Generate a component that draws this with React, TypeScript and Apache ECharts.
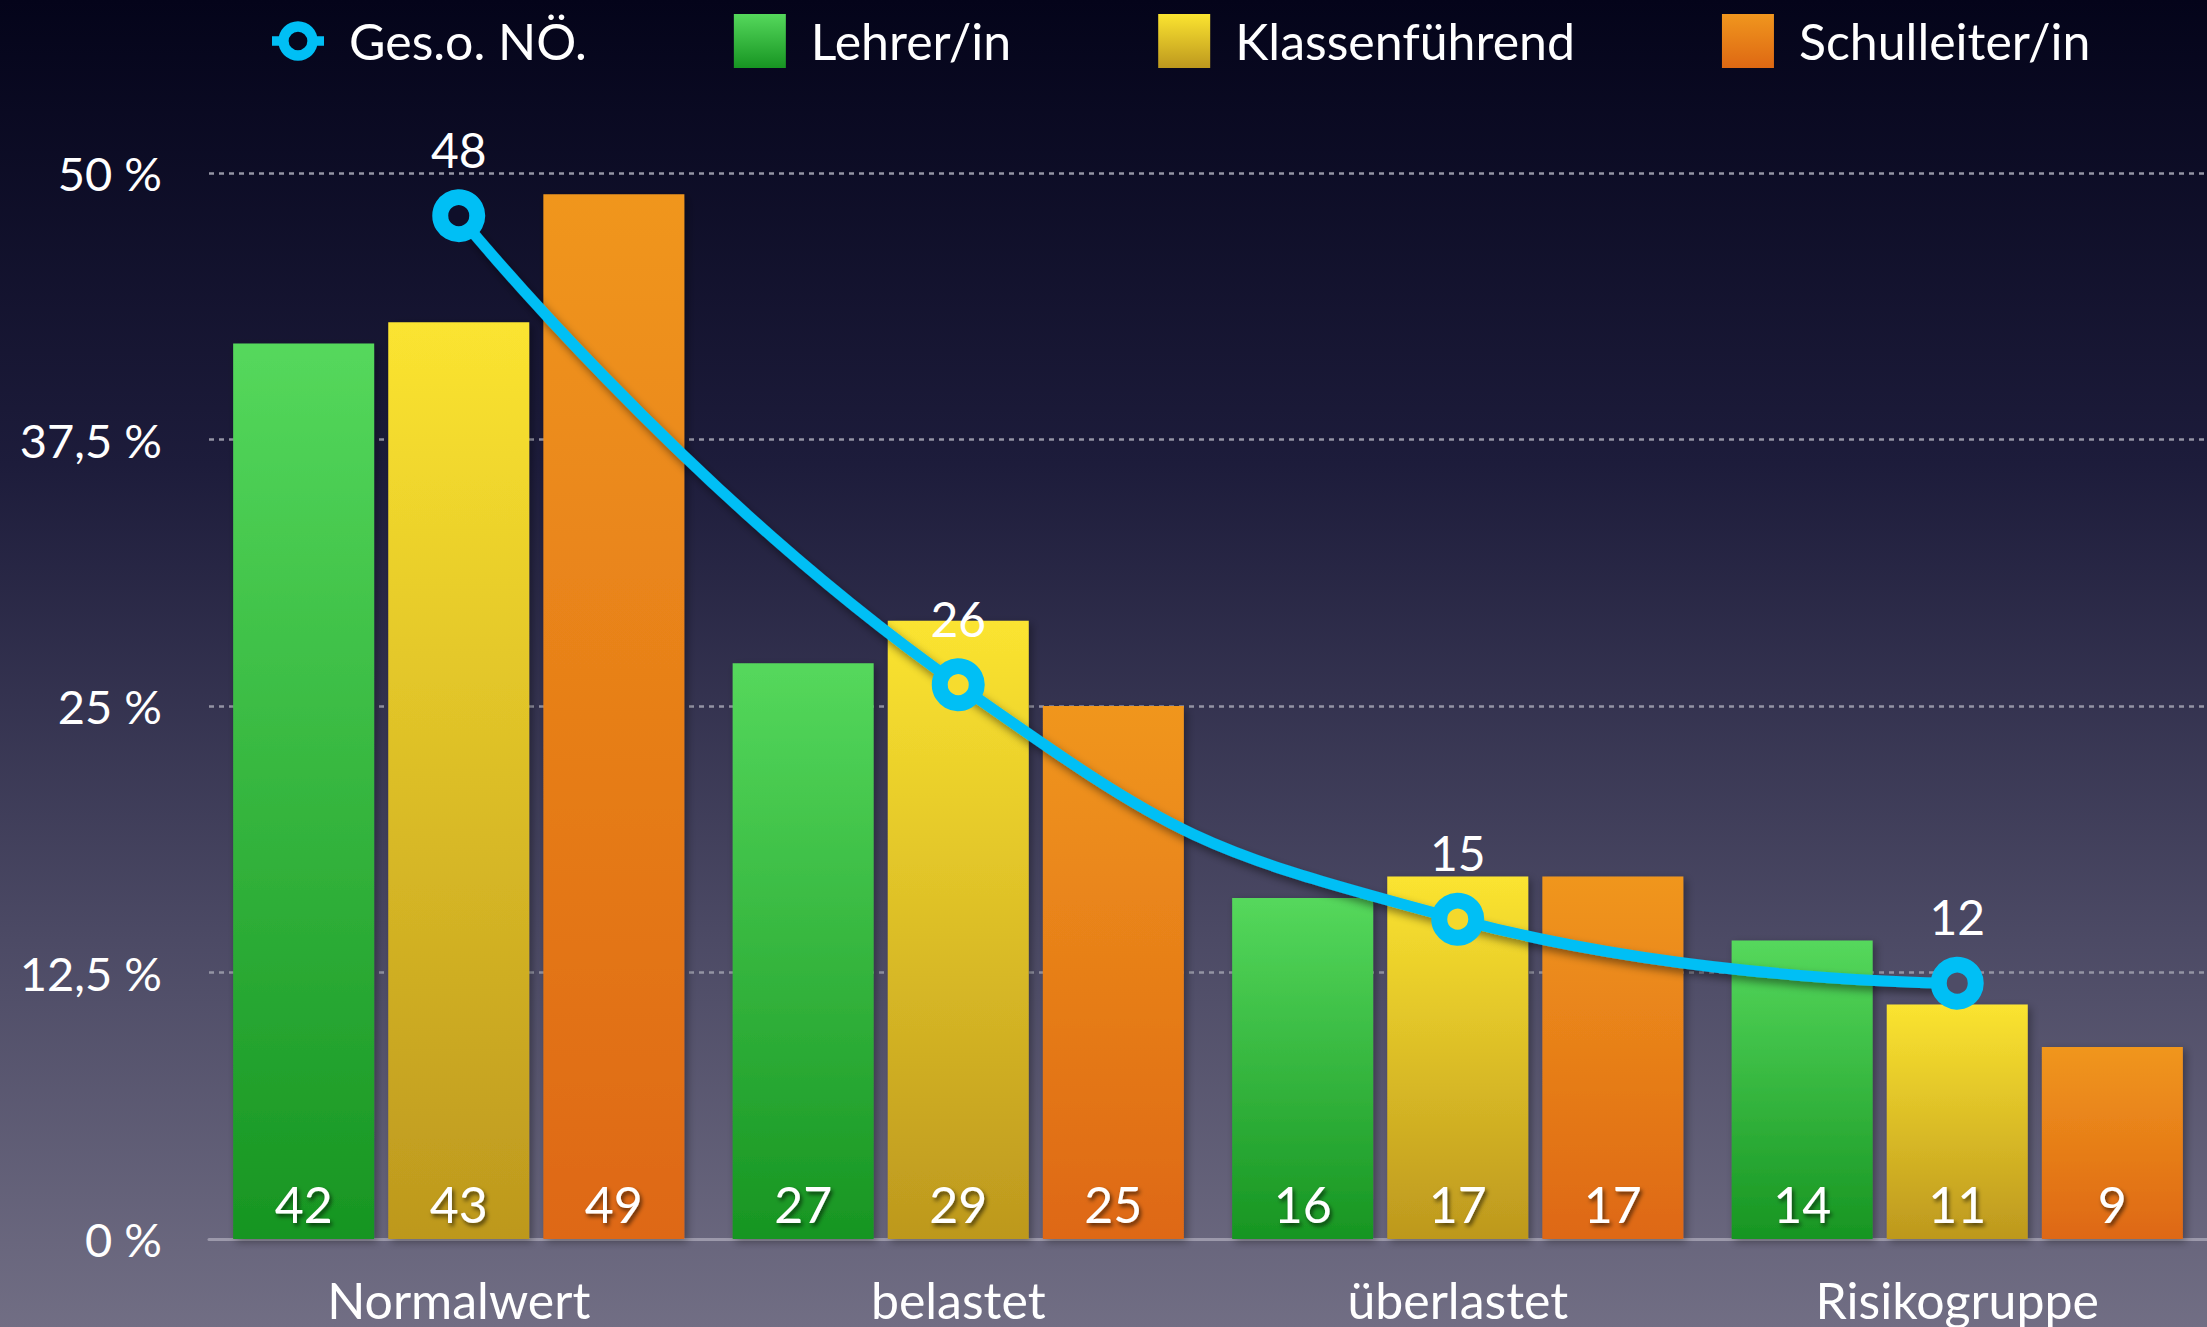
import React, { useEffect, useRef } from "react";
import * as echarts from "echarts";

const categories = ["Normalwert", "belastet", "überlastet", "Risikogruppe"];
const gesamtNO = [48, 26, 15, 12];
const lehrer = [42, 27, 16, 14];
const klassenfuehrend = [43, 29, 17, 11];
const schulleiter = [49, 25, 17, 9];
const seriesNames = ["Ges.o. NÖ.", "Lehrer/in", "Klassenführend", "Schulleiter/in"];
const yTicks = [0, 12.5, 25, 37.5, 50];

// colour seen through the open ring of each marker (style only)
const markerHoleColors = ["#0f0f2a", "#f6dc2e", "#f4d82c", "#4e4c66"];

const FONT = "Lato, 'Open Sans', sans-serif";
const CYAN = "#00bff5";

const RING_ICON =
  "path://M25,1 A19,19 0 1,1 25,39 A19,19 0 1,1 25,1 Z " +
  "M25,11 A9,9 0 1,0 25,29 A9,9 0 1,0 25,11 Z " +
  "M0,15.5 L8,15.5 L8,24.5 L0,24.5 Z " +
  "M42,15.5 L50,15.5 L50,24.5 L42,24.5 Z";

function grad(top: string, bottom: string) {
  return new echarts.graphic.LinearGradient(0, 0, 0, 1, [
    { offset: 0, color: top },
    { offset: 1, color: bottom },
  ]);
}

export default function App() {
  const ref = useRef<HTMLDivElement>(null);
  useEffect(() => {
    if (!ref.current) return;
    const chart = echarts.init(ref.current, null, { renderer: "svg" });
    const barLabel = {
      show: true,
      position: "insideBottom",
      distance: 10,
      color: "#ffffff",
      fontSize: 50,
      fontFamily: FONT,
      textShadowColor: "rgba(0,0,0,0.6)",
      textShadowBlur: 4,
      textShadowOffsetX: 2,
      textShadowOffsetY: 3,
    };
    const barShadow = {
      shadowColor: "rgba(0,0,0,0.35)",
      shadowBlur: 8,
      shadowOffsetX: 3,
      shadowOffsetY: 3,
    };
    chart.setOption({
      animation: false,
      backgroundColor: new echarts.graphic.LinearGradient(0, 0, 0, 1, [
        { offset: 0, color: "#04041a" },
        { offset: 0.35, color: "#1d1c3b" },
        { offset: 0.7, color: "#4b4964" },
        { offset: 1, color: "#716e84" },
      ]),
      legend: {
        left: 272,
        top: 14,
        padding: 0,
        itemWidth: 52,
        itemHeight: 54,
        itemGap: 147,
        textStyle: {
          color: "#ffffff",
          fontSize: 50,
          fontFamily: FONT,
          padding: [0, 0, 0, 20],
        },
        data: [
          {
            name: seriesNames[0],
            icon: RING_ICON,
            itemStyle: { color: CYAN, borderWidth: 0 },
          },
          { name: seriesNames[1], icon: "rect" },
          { name: seriesNames[2], icon: "rect" },
          { name: seriesNames[3], icon: "rect" },
        ],
      },
      grid: { left: 209, right: 0, top: 173, bottom: 88, containLabel: false },
      xAxis: {
        type: "category",
        data: categories,
        axisTick: { show: false },
        axisLine: { lineStyle: { color: "#9c99ab", width: 3 } },
        axisLabel: { color: "#ffffff", fontSize: 50, fontFamily: FONT, margin: 36 },
      },
      yAxis: {
        type: "value",
        min: yTicks[0],
        max: yTicks[yTicks.length - 1],
        interval: 12.5,
        axisLine: { show: false },
        axisTick: { show: false },
        axisLabel: {
          color: "#ffffff",
          fontSize: 47,
          fontFamily: FONT,
          margin: 47,
          formatter: (v: number) => String(v).replace(".", ",") + " %",
        },
        splitLine: { lineStyle: { color: "#9494a4", width: 2.5, type: [5, 5] } },
      },
      series: [
        {
          name: seriesNames[0],
          type: "line",
          data: gesamtNO.map((v, i) => ({
            value: v,
            itemStyle: { color: markerHoleColors[i] },
          })),
          smooth: 0.5,
          z: 5,
          symbol: "circle",
          symbolSize: 37,
          lineStyle: {
            color: CYAN,
            width: 11,
            shadowColor: "rgba(0,0,0,0.45)",
            shadowBlur: 8,
            shadowOffsetX: 3,
            shadowOffsetY: 5,
          },
          itemStyle: { color: "#0f0f2a", borderColor: CYAN, borderWidth: 16 },
          label: {
            show: true,
            position: "top",
            distance: 16,
            color: "#ffffff",
            fontSize: 48,
            fontFamily: FONT,
          },
        },
        {
          name: seriesNames[1],
          type: "bar",
          data: lehrer,
          barWidth: 141,
          barGap: "10%",
          itemStyle: { color: grad("#55d85c", "#179522"), ...barShadow },
          label: barLabel,
        },
        {
          name: seriesNames[2],
          type: "bar",
          data: klassenfuehrend,
          barWidth: 141,
          barGap: "10%",
          itemStyle: { color: grad("#fbe430", "#bd981e"), ...barShadow },
          label: barLabel,
        },
        {
          name: seriesNames[3],
          type: "bar",
          data: schulleiter,
          barWidth: 141,
          barGap: "10%",
          itemStyle: { color: grad("#f0961e", "#de6813"), ...barShadow },
          label: barLabel,
        },
      ],
    });
    return () => chart.dispose();
  }, []);
  return (
    <div
      ref={ref}
      style={{ position: "absolute", left: 0, top: 0, width: 2207, height: 1327 }}
    />
  );
}
